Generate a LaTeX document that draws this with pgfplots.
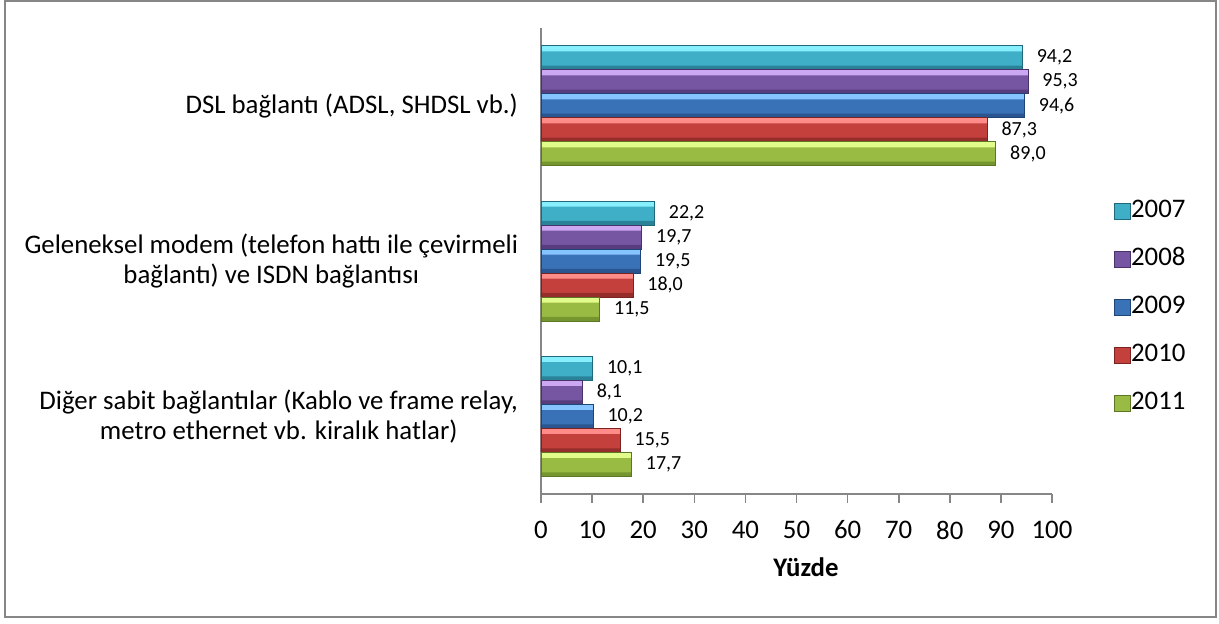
\documentclass[border=0pt]{standalone}
\usepackage{pgfplots}
\usepackage{pgfplotstable}
\pgfplotsset{compat=1.18}
\usepackage{fontspec}
\setmainfont{Carlito}

\definecolor{axgray}{HTML}{868686}
% light / face / dark / outline
\definecolor{aqL}{HTML}{86EEFC}\definecolor{aqM}{HTML}{3FAFC8}\definecolor{aqD}{HTML}{2A8298}\definecolor{aqO}{HTML}{1E6A7C}
\definecolor{puL}{HTML}{CCA8F2}\definecolor{puM}{HTML}{7656A2}\definecolor{puD}{HTML}{573D7E}\definecolor{puO}{HTML}{47326A}
\definecolor{blL}{HTML}{86C4FF}\definecolor{blM}{HTML}{3A72B8}\definecolor{blD}{HTML}{2A5590}\definecolor{blO}{HTML}{1F4476}
\definecolor{reL}{HTML}{FF8C88}\definecolor{reM}{HTML}{C3403C}\definecolor{reD}{HTML}{952D2A}\definecolor{reO}{HTML}{7A2320}
\definecolor{grL}{HTML}{E2FC8C}\definecolor{grM}{HTML}{9ABB43}\definecolor{grD}{HTML}{75952F}\definecolor{grO}{HTML}{5C7623}

% cat: 1 = Diğer, 2 = Geleneksel, 3 = DSL
\pgfplotstableread{
cat  y2007 y2008 y2009 y2010 y2011
1    10.1  8.1   10.2  15.5  17.7
2    22.2  19.7  19.5  18.0  11.5
3    94.2  95.3  94.6  87.3  89.0
}\data

\begin{document}
\begin{tikzpicture}
\useasboundingbox (-270.5pt,-64.5pt) rectangle (339pt,247pt);
\draw[axgray, line width=0.75pt] (-268pt,-61.5pt) rectangle (337.5pt,246.5pt);
\begin{axis}[
  at={(0pt,0pt)}, anchor=south west,
  scale only axis, width=255.5pt, height=233pt,
  xbar, bar width=0.1545,
  xmin=0, xmax=100, ymin=0.5, ymax=3.5,
  axis x line*=bottom, axis y line*=left,
  axis line style={axgray, line width=0.8pt},
  xtick={0,10,...,100},
  ytick={1,2,3},
  yticklabels={{Diğer sabit bağlantılar (Kablo ve frame relay,\\metro ethernet vb. kiralık hatlar)},
               {Geleneksel modem (telefon hattı ile çevirmeli\\bağlantı) ve ISDN bağlantısı},
               {DSL bağlantı (ADSL, SHDSL vb.)}},
  tick align=outside, major tick length=4.5pt,
  xtick style={axgray, line width=0.8pt},
  ytick style={draw=none},
  /pgf/number format/assume math mode=true,
  xticklabel style={font=\fontsize{13.4}{15}\selectfont, anchor=center, yshift=-13.5pt},
  yticklabel style={font=\fontsize{13.4}{15}\selectfont, align=center, xshift=-3.5pt},
  xlabel={\textbf{Yüzde}},
  xlabel style={font=\fontsize{13.4}{15}\selectfont, at={(axis description cs:0.5,0)}, anchor=center, yshift=-36.5pt, xshift=4.75pt},
  nodes near coords style={font=\fontsize{10}{11}\selectfont, anchor=west, inner sep=0pt, xshift=7pt, text=black},
  legend style={at={(1.121,0.400)}, anchor=west, draw=none, fill=none, inner sep=0pt,
    font=\fontsize{13.4}{15}\selectfont, row sep=12pt,
    nodes={inner sep=0pt, text height=9pt, text depth=3pt},
    /tikz/every even column/.append style={column sep=3pt}},
  legend cell align=left,
  legend image code/.code={%
    \path[#1] (0pt,-4pt) rectangle (8pt,4pt);},
  strip/.style={forget plot, draw=none, bar width=#1},
  outline/.style={forget plot, fill=none, line width=0.45pt,
    nodes near coords={\pgfmathprintnumber[fixed,fixed zerofill,precision=1,use comma,assume math mode=true]{\pgfplotspointmeta}}},
]
% 2007
\addplot[bar shift=0.309, fill=aqM, draw=aqO, line width=0.45pt] table[x=y2007, y=cat] {\data};
\addplot[strip=0.036, bar shift=0.3683, fill=aqL] table[x=y2007, y=cat] {\data};
\addplot[strip=0.026, bar shift=0.2447, fill=aqD] table[x=y2007, y=cat] {\data};
\addplot[outline, bar shift=0.309, draw=aqO] table[x=y2007, y=cat] {\data};
% 2008
\addplot[bar shift=0.1545, fill=puM, draw=puO, line width=0.45pt] table[x=y2008, y=cat] {\data};
\addplot[strip=0.036, bar shift=0.2138, fill=puL] table[x=y2008, y=cat] {\data};
\addplot[strip=0.026, bar shift=0.0902, fill=puD] table[x=y2008, y=cat] {\data};
\addplot[outline, bar shift=0.1545, draw=puO] table[x=y2008, y=cat] {\data};
% 2009
\addplot[bar shift=0, fill=blM, draw=blO, line width=0.45pt] table[x=y2009, y=cat] {\data};
\addplot[strip=0.036, bar shift=0.0593, fill=blL] table[x=y2009, y=cat] {\data};
\addplot[strip=0.026, bar shift=-0.0643, fill=blD] table[x=y2009, y=cat] {\data};
\addplot[outline, bar shift=0, draw=blO] table[x=y2009, y=cat] {\data};
% 2010
\addplot[bar shift=-0.1545, fill=reM, draw=reO, line width=0.45pt] table[x=y2010, y=cat] {\data};
\addplot[strip=0.036, bar shift=-0.0952, fill=reL] table[x=y2010, y=cat] {\data};
\addplot[strip=0.026, bar shift=-0.2188, fill=reD] table[x=y2010, y=cat] {\data};
\addplot[outline, bar shift=-0.1545, draw=reO] table[x=y2010, y=cat] {\data};
% 2011
\addplot[bar shift=-0.309, fill=grM, draw=grO, line width=0.45pt] table[x=y2011, y=cat] {\data};
\addplot[strip=0.036, bar shift=-0.2497, fill=grL] table[x=y2011, y=cat] {\data};
\addplot[strip=0.026, bar shift=-0.3733, fill=grD] table[x=y2011, y=cat] {\data};
\addplot[outline, bar shift=-0.309, draw=grO] table[x=y2011, y=cat] {\data};
\legend{2007,2008,2009,2010,2011}
\end{axis}
\end{tikzpicture}
\end{document}
